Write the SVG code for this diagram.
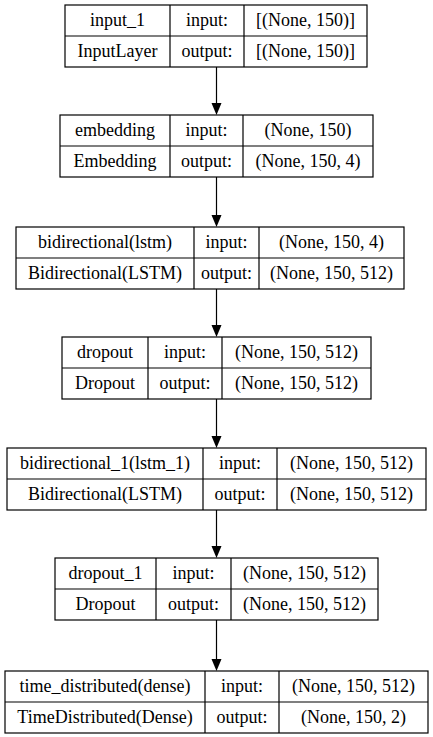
<svg xmlns="http://www.w3.org/2000/svg" width="433" height="737" viewBox="0 0 433 737">
<style>
.b{fill:#fff;stroke:#000;stroke-width:1.2}
.l{stroke:#000;stroke-width:1.2;fill:none}
text{font-family:'Liberation Serif','Times New Roman','DejaVu Serif',serif;font-size:18px;text-anchor:middle;fill:#000}
.c{stroke:#000;stroke-width:1.2;fill:none}
</style>
<rect width="433" height="737" fill="#fff"/>
<g id="connectors">
<line class="c" x1="216.5" y1="67" x2="216.5" y2="103" />
<polygon points="211.5,103 221.5,103 216.5,115"/>
<line class="c" x1="216.5" y1="177" x2="216.5" y2="215" />
<polygon points="211.5,215 221.5,215 216.5,227"/>
<line class="c" x1="216.5" y1="289" x2="216.5" y2="325" />
<polygon points="211.5,325 221.5,325 216.5,337"/>
<line class="c" x1="216.5" y1="399" x2="216.5" y2="436" />
<polygon points="211.5,436 221.5,436 216.5,448"/>
<line class="c" x1="216.5" y1="510" x2="216.5" y2="546" />
<polygon points="211.5,546 221.5,546 216.5,558"/>
<line class="c" x1="216.5" y1="620" x2="216.5" y2="659" />
<polygon points="211.5,659 221.5,659 216.5,671"/>
</g>
<g id="input_1">
<rect class="b" x="65" y="5" width="302" height="62"/>
<path class="l" d="M65,36H367M170,5V67M244,5V67"/>
<text x="117.5" y="25.5">input_1</text>
<text x="207" y="25.5">input:</text>
<text x="305.5" y="25.5">[(None, 150)]</text>
<text x="117.5" y="56.5">InputLayer</text>
<text x="207" y="56.5">output:</text>
<text x="305.5" y="56.5">[(None, 150)]</text>
</g>
<g id="embedding">
<rect class="b" x="60" y="115" width="313" height="62"/>
<path class="l" d="M60,146H373M170,115V177M243,115V177"/>
<text x="115" y="135.5">embedding</text>
<text x="206.5" y="135.5">input:</text>
<text x="308" y="135.5">(None, 150)</text>
<text x="115" y="166.5">Embedding</text>
<text x="206.5" y="166.5">output:</text>
<text x="308" y="166.5">(None, 150, 4)</text>
</g>
<g id="bidirectional">
<rect class="b" x="16" y="227" width="388" height="62"/>
<path class="l" d="M16,258H404M194,227V289M259,227V289"/>
<text x="105" y="247.5">bidirectional(lstm)</text>
<text x="226.5" y="247.5">input:</text>
<text x="331.5" y="247.5">(None, 150, 4)</text>
<text x="105" y="278.5">Bidirectional(LSTM)</text>
<text x="226.5" y="278.5">output:</text>
<text x="331.5" y="278.5">(None, 150, 512)</text>
</g>
<g id="dropout">
<rect class="b" x="62" y="337" width="309" height="62"/>
<path class="l" d="M62,368H371M148,337V399M222,337V399"/>
<text x="105" y="357.5">dropout</text>
<text x="185" y="357.5">input:</text>
<text x="296.5" y="357.5">(None, 150, 512)</text>
<text x="105" y="388.5">Dropout</text>
<text x="185" y="388.5">output:</text>
<text x="296.5" y="388.5">(None, 150, 512)</text>
</g>
<g id="bidirectional_1">
<rect class="b" x="7" y="448" width="419" height="62"/>
<path class="l" d="M7,479H426M203,448V510M277,448V510"/>
<text x="105" y="468.5">bidirectional_1(lstm_1)</text>
<text x="240" y="468.5">input:</text>
<text x="351.5" y="468.5">(None, 150, 512)</text>
<text x="105" y="499.5">Bidirectional(LSTM)</text>
<text x="240" y="499.5">output:</text>
<text x="351.5" y="499.5">(None, 150, 512)</text>
</g>
<g id="dropout_1">
<rect class="b" x="55" y="558" width="323" height="62"/>
<path class="l" d="M55,589H378M156,558V620M231,558V620"/>
<text x="105.5" y="578.5">dropout_1</text>
<text x="193.5" y="578.5">input:</text>
<text x="304.5" y="578.5">(None, 150, 512)</text>
<text x="105.5" y="609.5">Dropout</text>
<text x="193.5" y="609.5">output:</text>
<text x="304.5" y="609.5">(None, 150, 512)</text>
</g>
<g id="time_distributed">
<rect class="b" x="5" y="671" width="423" height="62"/>
<path class="l" d="M5,702H428M205,671V733M279,671V733"/>
<text x="105" y="691.5">time_distributed(dense)</text>
<text x="242" y="691.5">input:</text>
<text x="353.5" y="691.5">(None, 150, 512)</text>
<text x="105" y="722.5">TimeDistributed(Dense)</text>
<text x="242" y="722.5">output:</text>
<text x="353.5" y="722.5">(None, 150, 2)</text>
</g>
</svg>
